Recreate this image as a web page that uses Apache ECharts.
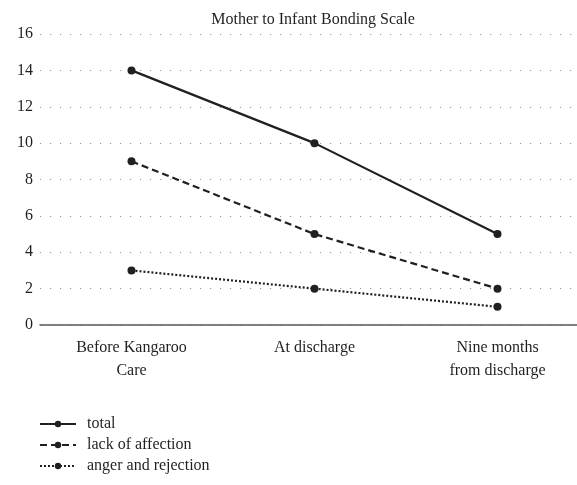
<!DOCTYPE html>
<html>
<head>
<meta charset="utf-8">
<script src="https://cdn.jsdelivr.net/npm/echarts@6/dist/echarts.min.js"></script>
<style>
  html, body { margin: 0; padding: 0; background: #fff; overflow: hidden; }
  #main { width: 577px; height: 485px; }
</style>
</head>
<body>
<div id="main"></div>
<script>
var categories = ['Before Kangaroo\nCare', 'At discharge', 'Nine months\nfrom discharge'];
var total = [14, 10, 5];
var lackOfAffection = [9, 5, 2];
var angerAndRejection = [3, 2, 1];

var ink = '#231f20';
var font = '"Liberation Serif", "DejaVu Serif", serif';

var chart = echarts.init(document.getElementById('main'));

function lineSeries(name, data, type) {
  return {
    name: name,
    type: 'line',
    data: data,
    symbol: 'circle',
    symbolSize: 8,
    itemStyle: { color: ink },
    lineStyle: { color: ink, width: 2.2, type: type },
    emphasis: { disabled: true }
  };
}

var option = {
  animation: false,
  textStyle: { fontFamily: font, color: ink },
  title: {
    text: 'Mother to Infant Bonding Scale',
    left: 308,
    textAlign: 'center',
    top: 7,
    textStyle: { fontFamily: font, fontSize: 16, fontWeight: 'normal', color: ink }
  },
  legend: {
    orient: 'vertical',
    left: 34,
    top: 411,
    itemWidth: 36,
    itemHeight: 8,
    itemGap: 5,
    textStyle: { fontFamily: font, fontSize: 16, color: ink, padding: [0, 0, 0, 6] },
    data: ['total', 'lack of affection', 'anger and rejection']
  },
  grid: { left: 40, width: 549, top: 34, height: 291, outerBoundsMode: 'none' },
  xAxis: {
    type: 'category',
    data: categories,
    boundaryGap: true,
    axisLine: { lineStyle: { color: '#555', width: 1.5 } },
    axisTick: { show: false },
    axisLabel: { fontFamily: font, fontSize: 16, color: ink, margin: 11, lineHeight: 23, interval: 0 }
  },
  yAxis: {
    type: 'value',
    min: 0,
    max: 16,
    interval: 2,
    axisLine: { show: false },
    axisTick: { show: false },
    axisLabel: { fontFamily: font, fontSize: 16, color: ink, margin: 7 },
    splitLine: { lineStyle: { color: '#999', type: [1.2, 8.8], width: 1.2 } }
  },
  series: [
    lineSeries('total', total, 'solid'),
    lineSeries('lack of affection', lackOfAffection, [7, 4]),
    lineSeries('anger and rejection', angerAndRejection, [2, 2])
  ]
};

chart.setOption(option);
</script>
</body>
</html>
